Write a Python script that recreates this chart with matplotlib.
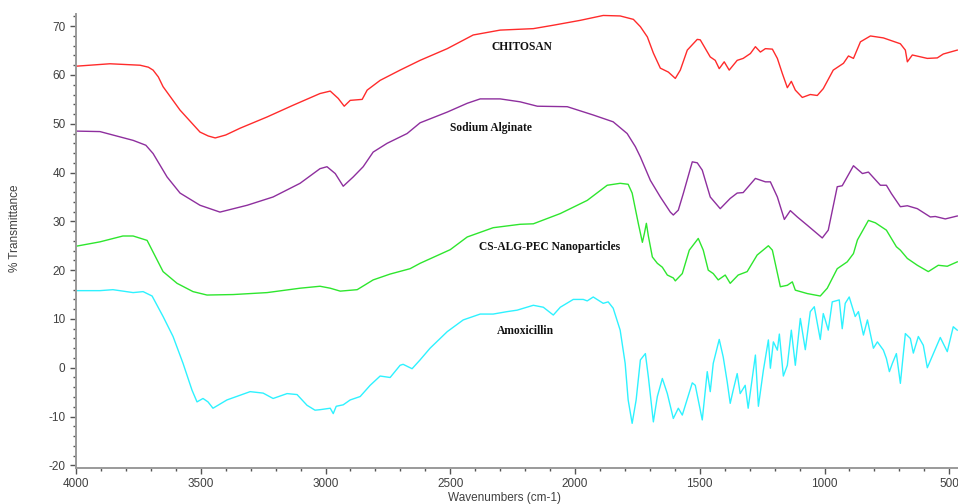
import numpy as np
import matplotlib
matplotlib.use('Agg')
import matplotlib.pyplot as plt
from matplotlib.ticker import MultipleLocator

plt.rcParams['axes.unicode_minus'] = False

# FTIR spectra, wavenumber (cm-1) vs % transmittance
chitosan_w = [4000, 3864, 3743, 3710, 3691, 3670, 3651, 3583, 3503, 3470, 3442, 3400, 3342, 3234,
              3130, 3022, 2981, 2949, 2925, 2901, 2853, 2833, 2781, 2701, 2621, 2512, 2408, 2300,
              2167, 2087, 1979, 1887, 1819, 1766, 1738, 1710, 1686, 1658, 1626, 1598, 1578, 1550,
              1510, 1498, 1458, 1438, 1422, 1402, 1382, 1350, 1326, 1297, 1277, 1257, 1237, 1209,
              1189, 1169, 1149, 1133, 1117, 1089, 1057, 1029, 1005, 965, 924, 904, 884, 856, 816,
              764, 696, 676, 668, 648, 588, 548, 524, 468]
chitosan_t = [61.8, 62.3, 62.0, 61.6, 61.0, 59.6, 57.6, 52.8, 48.3, 47.5, 47.1, 47.7, 49.1, 51.4,
              53.8, 56.2, 56.7, 55.2, 53.6, 54.8, 55.0, 56.9, 58.9, 61.0, 63.0, 65.4, 68.2, 69.2,
              69.5, 70.2, 71.2, 72.2, 72.1, 71.4, 69.9, 67.8, 64.5, 61.4, 60.6, 59.3, 61.0, 65.1,
              67.3, 67.2, 63.7, 63.0, 61.3, 62.7, 61.0, 63.0, 63.4, 64.4, 65.8, 64.7, 65.4, 65.3,
              63.4, 60.3, 57.4, 58.7, 56.9, 55.4, 56.0, 55.8, 57.2, 61.0, 62.4, 63.9, 63.4, 66.8,
              68.0, 67.6, 66.4, 65.1, 62.7, 64.1, 63.4, 63.5, 64.3, 65.1]

alginate_w = [4000, 3904, 3771, 3720, 3691, 3635, 3583, 3503, 3423, 3314, 3210, 3102, 3022, 2994,
              2961, 2929, 2889, 2849, 2809, 2753, 2673, 2621, 2512, 2432, 2380, 2300, 2220, 2151,
              2031, 1927, 1847, 1791, 1758, 1738, 1698, 1658, 1618, 1606, 1586, 1566, 1530, 1510,
              1490, 1458, 1418, 1378, 1350, 1326, 1277, 1237, 1217, 1189, 1161, 1137, 1109, 1069,
              1009, 985, 949, 929, 884, 848, 824, 776, 752, 732, 696, 668, 628, 576, 556, 516, 468]
alginate_t = [48.5, 48.4, 46.6, 45.6, 43.9, 39.1, 35.8, 33.3, 31.9, 33.3, 35.0, 37.8, 40.8, 41.2,
              39.8, 37.2, 39.1, 41.2, 44.2, 46.0, 48.0, 50.2, 52.4, 54.2, 55.1, 55.1, 54.5, 53.6,
              53.5, 51.8, 50.4, 48.0, 45.3, 43.2, 38.4, 35.0, 31.9, 31.3, 32.3, 35.7, 42.2, 42.0,
              40.5, 35.0, 32.6, 34.7, 35.8, 35.9, 38.8, 38.1, 38.1, 35.0, 30.4, 32.2, 30.9, 29.2,
              26.6, 28.2, 37.1, 37.3, 41.4, 39.8, 40.1, 37.4, 37.4, 35.7, 33.0, 33.2, 32.6, 30.9,
              31.0, 30.5, 31.1]

pec_w = [4000, 3904, 3812, 3771, 3715, 3695, 3651, 3595, 3531, 3475, 3370, 3234, 3102, 3022, 2981,
         2941, 2873, 2809, 2741, 2661, 2621, 2500, 2432, 2328, 2220, 2167, 2059, 1951, 1871, 1819,
         1787, 1771, 1746, 1730, 1722, 1714, 1706, 1690, 1670, 1650, 1630, 1606, 1598, 1570, 1542,
         1506, 1486, 1466, 1446, 1426, 1398, 1378, 1346, 1310, 1270, 1225, 1209, 1177, 1149, 1129,
         1117, 1069, 1017, 989, 949, 909, 884, 868, 824, 796, 752, 712, 696, 668, 628, 584, 544,
         508, 468]
pec_t = [24.9, 25.8, 27.0, 27.0, 26.1, 24.1, 19.7, 17.3, 15.6, 14.9, 15.0, 15.4, 16.3, 16.7, 16.3,
         15.7, 16.0, 18.0, 19.2, 20.3, 21.4, 24.2, 26.8, 28.7, 29.4, 29.5, 31.6, 34.3, 37.4, 37.8,
         37.6, 35.8, 29.5, 25.7, 27.5, 29.6, 27.0, 22.7, 21.4, 20.6, 19.0, 18.4, 17.8, 19.3, 24.1,
         26.5, 24.1, 20.0, 19.3, 18.0, 19.0, 17.3, 19.0, 19.7, 23.1, 25.0, 24.1, 16.6, 16.9, 17.6,
         15.9, 15.2, 14.7, 16.3, 20.3, 21.7, 23.4, 26.2, 30.2, 29.7, 28.2, 24.8, 24.1, 22.4, 21.0,
         19.7, 21.0, 20.8, 21.7]

amox_w = [4000, 3904, 3852, 3771, 3731, 3695, 3651, 3611, 3571, 3535, 3515, 3491, 3471, 3451, 3395,
          3302, 3250, 3210, 3154, 3114, 3074, 3042, 3022, 2981, 2969, 2957, 2929, 2901, 2861, 2821,
          2781, 2741, 2701, 2689, 2653, 2621, 2581, 2512, 2448, 2380, 2328, 2272, 2232, 2167, 2127,
          2087, 2059, 2007, 1967, 1951, 1927, 1887, 1867, 1847, 1819, 1799, 1787, 1771, 1755, 1738,
          1718, 1706, 1686, 1670, 1650, 1630, 1606, 1586, 1570, 1530, 1518, 1490, 1470, 1458, 1446,
          1422, 1406, 1390, 1378, 1366, 1350, 1338, 1318, 1306, 1277, 1265, 1245, 1225, 1217, 1205,
          1189, 1181, 1165, 1149, 1133, 1117, 1097, 1077, 1057, 1041, 1017, 1005, 997, 985, 969,
          941, 929, 917, 901, 877, 864, 844, 828, 804, 788, 764, 752, 740, 728, 712, 696, 676, 656,
          644, 624, 604, 588, 536, 508, 484, 468]
amox_t = [15.8, 15.8, 16.0, 15.4, 15.6, 14.7, 10.5, 6.4, 0.9, -4.6, -7.0, -6.3, -7.0, -8.3, -6.6,
          -4.9, -5.2, -6.3, -5.3, -5.5, -7.7, -8.7, -8.6, -8.3, -9.4, -7.9, -7.6, -6.6, -5.9, -3.6,
          -1.7, -2.0, 0.5, 0.7, -0.2, 1.6, 4.0, 7.4, 9.8, 11.0, 11.0, 11.5, 11.8, 12.8, 12.4,
          10.8, 12.4, 14.0, 14.0, 13.7, 14.5, 13.2, 13.5, 12.2, 7.7, 0.9, -6.6, -11.4, -6.6, 1.6,
          2.9, -1.9, -11.1, -5.9, -2.2, -5.3, -10.4, -8.3, -9.7, -3.1, -3.6, -10.7, -0.8, -4.9, 0.9,
          5.8, 2.2, -2.9, -7.3, -4.6, -1.2, -5.3, -3.6, -8.3, 2.6, -7.9, -0.5, 5.7, -0.1, 5.3,
          3.6, 6.9, -1.7, 0.5, 7.7, 0.5, 10.1, 3.7, 11.5, 12.5, 5.8, 11.1, 9.8, 7.7, 13.5,
          13.9, 8.0, 13.2, 14.5, 10.5, 11.5, 6.7, 9.8, 4.0, 5.3, 3.6, 1.9, -0.8, 0.9, 2.9, -3.2, 7.0, 6.0,
          3.0, 6.4, 4.6, 0.0, 6.2, 3.3, 8.4, 7.7]

series = [
    (chitosan_w, chitosan_t, '#ff2b2b', 'CHITOSAN', 2212, 65.7),
    (alginate_w, alginate_t, '#8e2f9e', 'Sodium Alginate', 2336, 49.1),
    (pec_w, pec_t, '#2ee62e', 'CS-ALG-PEC Nanoparticles', 2103, 24.7),
    (amox_w, amox_t, '#2ef2ff', 'Amoxicillin', 2200, 7.5),
]

fig = plt.figure(figsize=(9.58, 5.04), dpi=100)
ax = fig.add_axes([76 / 958, 36 / 504, 882 / 958, 454 / 504])

for w, t, color, name, lx, ly in series:
    ax.plot(w, t, color=color, lw=1.0)
    ax.text(lx, ly, name, ha='center', va='center', fontsize=8.3, fontweight='bold',
            family='Liberation Serif', color='#111111')

ax.set_xlim(4000, 465)
ax.set_ylim(-20.55, 72.5)
ax.xaxis.set_major_locator(MultipleLocator(500))
ax.xaxis.set_minor_locator(MultipleLocator(100))
ax.yaxis.set_major_locator(MultipleLocator(10))
ax.yaxis.set_minor_locator(MultipleLocator(2))

for side in ['top', 'right']:
    ax.spines[side].set_visible(False)
for side in ['left', 'bottom']:
    ax.spines[side].set_color('#9a9a9a')
    ax.spines[side].set_linewidth(1.4)

ax.tick_params(axis='both', which='major', length=4, width=1, color='#555555',
               labelsize=8.5, labelcolor='#404040', direction='out')
ax.tick_params(axis='both', which='minor', length=2, width=1, color='#555555', direction='out')
for lab in ax.get_xticklabels() + ax.get_yticklabels():
    lab.set_family('Liberation Sans')

fig.text(504 / 958, 1 - 498 / 504, 'Wavenumbers (cm-1)', ha='center', va='center',
         fontsize=8.5, color='#404040', family='Liberation Sans')
fig.text(15 / 958, 1 - 228 / 504, '% Transmittance', ha='center', va='center', rotation=90,
         fontsize=8.5, color='#404040', family='Liberation Sans')

fig.savefig('out.png', dpi=100)
